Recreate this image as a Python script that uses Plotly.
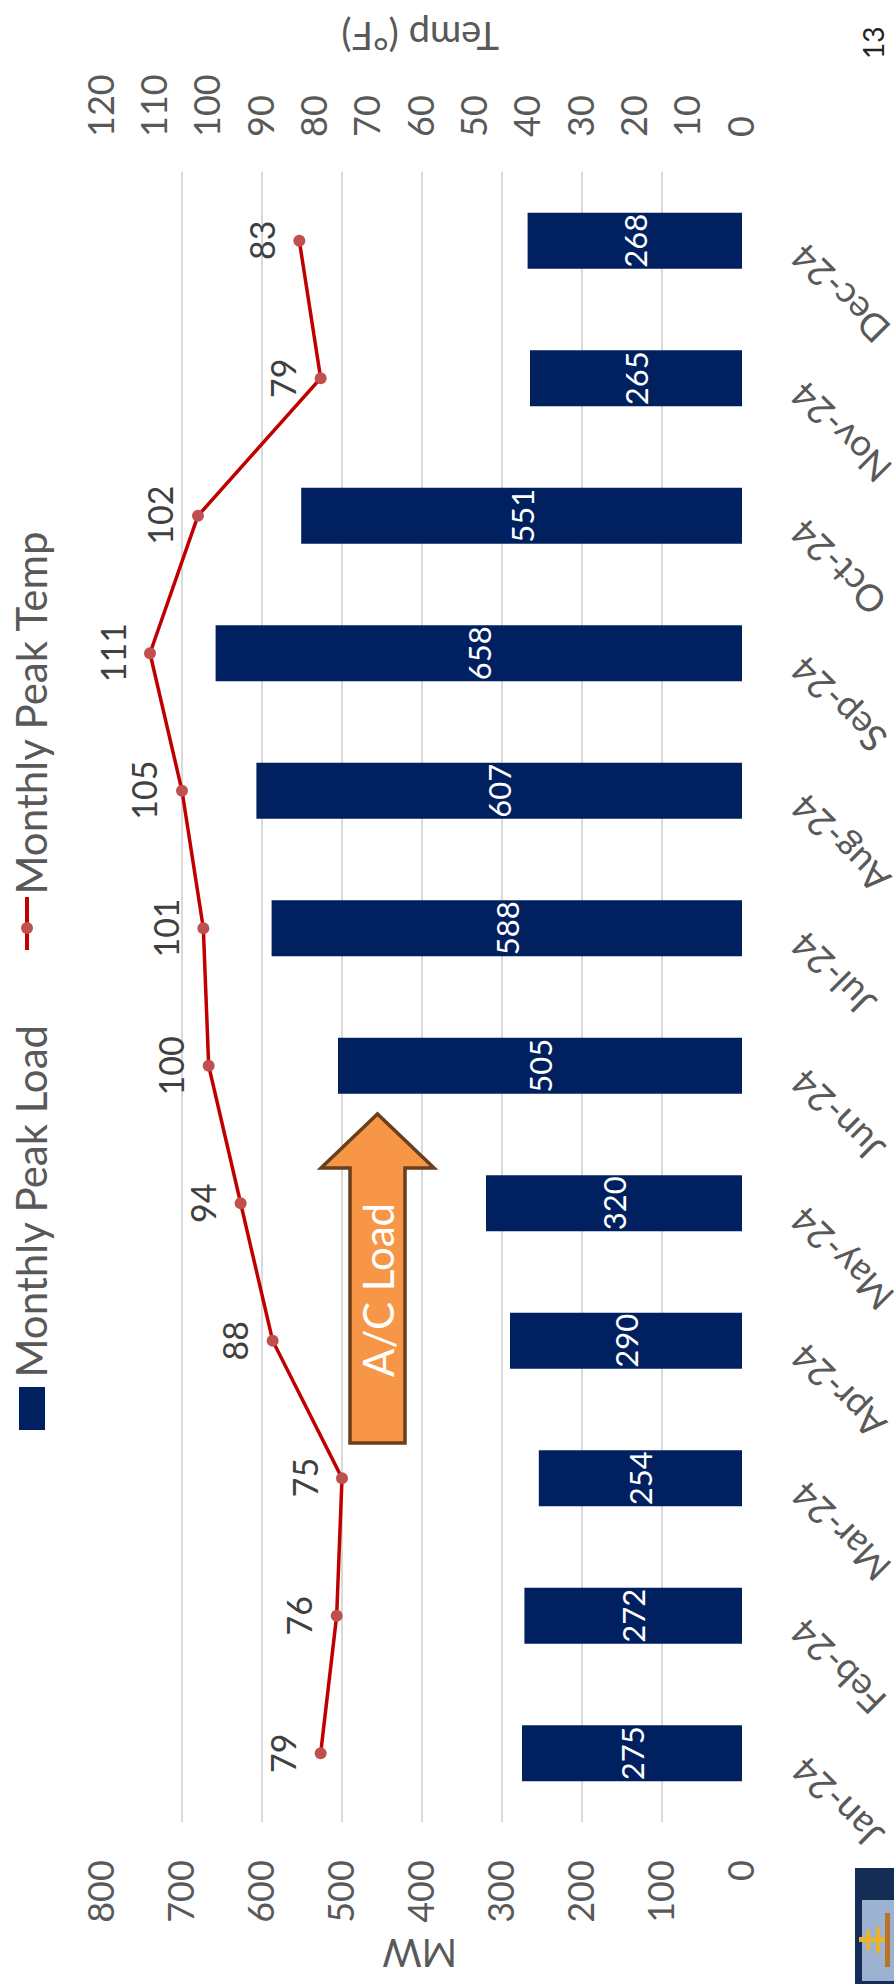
import plotly.graph_objects as go

# ---- data ----
months = ["Jan-24", "Feb-24", "Mar-24", "Apr-24", "May-24", "Jun-24",
          "Jul-24", "Aug-24", "Sep-24", "Oct-24", "Nov-24", "Dec-24"]
peak_load_mw = [275, 272, 254, 290, 320, 505, 588, 607, 658, 551, 265, 268]
peak_temp_f = [79, 76, 75, 88, 94, 100, 101, 105, 111, 102, 79, 83]
mw_ticks = [0, 100, 200, 300, 400, 500, 600, 700, 800]
temp_ticks = [0, 10, 20, 30, 40, 50, 60, 70, 80, 90, 100, 110, 120]

# ---- page geometry (slide turned on its side) ----
W, H = 894, 1984
L, R, T, B = 102, 152, 172, 162
PW, PH = W - L - R, H - T - B

FONT = "Lato"
GREY = "#595959"
NAVY = "#002060"
RED = "#C00000"
RED_MK = "#C0504D"


def px(x):
    return (x - L) / PW


def py(y):
    return (H - B - y) / PH


fig = go.Figure()

fig.add_trace(go.Bar(
    x=peak_load_mw, y=months, orientation="h",
    marker=dict(color=NAVY, line=dict(width=0)),
    text=[str(v) for v in peak_load_mw],
    textposition="inside", insidetextanchor="middle", textangle=-90,
    textfont=dict(color="white", size=31, family=FONT),
    constraintext="none",
    xaxis="x", yaxis="y", name="Monthly Peak Load",
))

fig.add_trace(go.Scatter(
    x=peak_temp_f, y=months, mode="lines+markers",
    line=dict(color=RED, width=3.5),
    marker=dict(color=RED_MK, size=12),
    xaxis="x2", yaxis="y", name="Monthly Peak Temp",
))

annotations = []

# temperature value labels
for m, t in zip(months, peak_temp_f):
    annotations.append(dict(
        x=t, y=m, xref="x2", yref="y", text=str(t), showarrow=False,
        textangle=-90, xanchor="center", yanchor="middle", xshift=-38,
        font=dict(size=34, color="#404040", family=FONT),
    ))

# month labels beside the category axis
for m in months:
    annotations.append(dict(
        x=1, y=m, xref="paper", yref="y", text=m, showarrow=False,
        textangle=-135, xanchor="left", yanchor="top", xshift=36, yshift=8,
        font=dict(size=37, color=GREY, family=FONT),
    ))

# axis titles
annotations.append(dict(
    x=px(420), y=py(1954), xref="paper", yref="paper", text="MW",
    showarrow=False, textangle=180, xanchor="center", yanchor="middle",
    font=dict(size=38, color=GREY, family=FONT),
))
annotations.append(dict(
    x=px(420), y=py(37), xref="paper", yref="paper", text="Temp (°F)",
    showarrow=False, textangle=180, xanchor="center", yanchor="middle",
    font=dict(size=38, color=GREY, family=FONT),
))

# legend entries
annotations.append(dict(
    x=px(30), y=py(1380), xref="paper", yref="paper", text="Monthly Peak Load",
    showarrow=False, textangle=-90, xanchor="center", yanchor="bottom",
    font=dict(size=42, color=GREY, family=FONT),
))
annotations.append(dict(
    x=px(30), y=py(897), xref="paper", yref="paper", text="Monthly Peak Temp",
    showarrow=False, textangle=-90, xanchor="center", yanchor="bottom",
    font=dict(size=42, color=GREY, family=FONT),
))

# arrow callout text
annotations.append(dict(
    x=px(378), y=py(1290), xref="paper", yref="paper", text="A/C Load",
    showarrow=False, textangle=-90, xanchor="center", yanchor="middle",
    font=dict(size=42, color="white", family=FONT),
))

# page number
annotations.append(dict(
    x=px(873), y=py(43), xref="paper", yref="paper", text="13",
    showarrow=False, textangle=-90, xanchor="center", yanchor="middle",
    font=dict(size=28, color="#222222", family=FONT),
))

shapes = []

# legend keys
shapes.append(dict(type="rect", xref="paper", yref="paper",
                   x0=px(19), x1=px(45), y0=py(1430), y1=py(1387),
                   fillcolor=NAVY, line=dict(width=0)))
shapes.append(dict(type="line", xref="paper", yref="paper",
                   x0=px(27), x1=px(27), y0=py(950), y1=py(897),
                   line=dict(color=RED, width=4)))
shapes.append(dict(type="circle", xref="paper", yref="paper",
                   x0=px(21), x1=px(33), y0=py(934), y1=py(922),
                   fillcolor=RED_MK, line=dict(width=0)))

# A/C Load block arrow
pts = [(350, 1443), (350, 1168), (321, 1168), (377.5, 1114),
       (434, 1168), (405, 1168), (405, 1443)]
path = "M " + " L ".join(f"{px(a):.5f},{py(b):.5f}" for a, b in pts) + " Z"
shapes.append(dict(type="path", xref="paper", yref="paper", path=path,
                   fillcolor="#F79646", line=dict(color="#6B3E1C", width=3.5),
                   layer="above"))

# corner logo
shapes.append(dict(type="rect", xref="paper", yref="paper",
                   x0=px(855), x1=px(894), y0=py(1984), y1=py(1868),
                   fillcolor="#142D55", line=dict(width=0)))
shapes.append(dict(type="rect", xref="paper", yref="paper",
                   x0=px(862), x1=px(894), y0=py(1981), y1=py(1900),
                   fillcolor="#9DB1D0", line=dict(width=0)))
shapes.append(dict(type="rect", xref="paper", yref="paper",
                   x0=px(859), x1=px(890), y0=py(1942), y1=py(1937),
                   fillcolor="#E8B331", line=dict(width=0)))
for xc, y0, y1 in [(868, 1930, 1950), (878, 1927, 1953)]:
    shapes.append(dict(type="rect", xref="paper", yref="paper",
                       x0=px(xc - 2), x1=px(xc + 2), y0=py(y1), y1=py(y0),
                       fillcolor="#E8B331", line=dict(width=0)))
shapes.append(dict(type="rect", xref="paper", yref="paper",
                   x0=px(885), x1=px(890), y0=py(1967), y1=py(1913),
                   fillcolor="#B8742A", line=dict(width=0)))

tickfont = dict(size=36, color=GREY, family=FONT)

fig.update_layout(
    width=W, height=H,
    margin=dict(l=L, r=R, t=T, b=B, pad=0),
    paper_bgcolor="white", plot_bgcolor="white",
    showlegend=False,
    bargap=0.593,
    xaxis=dict(
        range=[800, 0], tickvals=mw_ticks, tickangle=-90, tickfont=tickfont,
        showgrid=True, gridcolor="#D9D9D9", gridwidth=2,
        zeroline=False, showline=False, ticks="", ticklabelstandoff=30,
    ),
    xaxis2=dict(
        overlaying="x", side="top", range=[120, 0], tickvals=temp_ticks,
        tickangle=-90, tickfont=tickfont, showgrid=False, zeroline=False,
        showline=False, ticks="", ticklabelstandoff=34,
    ),
    yaxis=dict(
        type="category", categoryorder="array", categoryarray=months,
        range=[-0.5, 11.5], showticklabels=False, showgrid=False,
        zeroline=False, showline=False,
    ),
    annotations=annotations,
    shapes=shapes,
)

fig.write_html("out.html")
